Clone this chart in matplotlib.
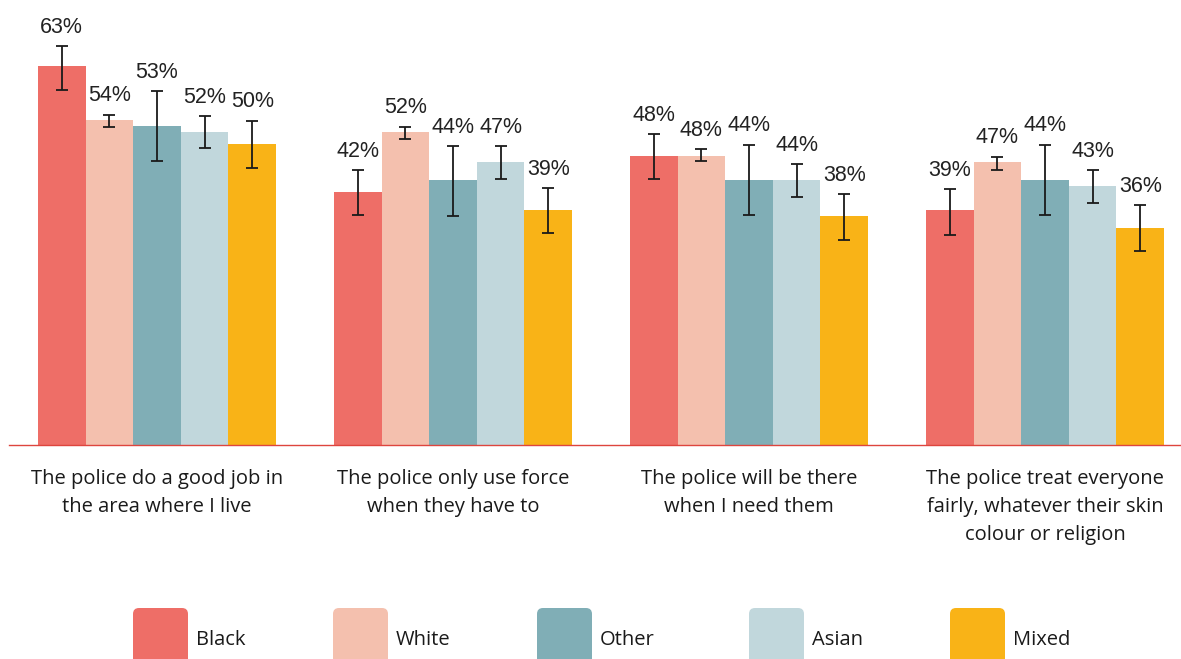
import matplotlib
matplotlib.use("Agg")
import matplotlib.pyplot as plt
from matplotlib.patches import FancyBboxPatch
import numpy as np

# Statements (x categories)
statements = [
    "The police do a good job in\nthe area where I live",
    "The police only use force\nwhen they have to",
    "The police will be there\nwhen I need them",
    "The police treat everyone\nfairly, whatever their skin\ncolour or religion",
]

groups = ["Black", "White", "Other", "Asian", "Mixed"]

# Percentages by group, one value per statement
black = [63, 42, 48, 39]
white = [54, 52, 48, 47]
other = [53, 44, 44, 44]
asian = [52, 47, 44, 43]
mixed = [50, 39, 38, 36]

# Confidence interval bounds
black_lo = [58.9, 38.2, 44.2, 34.9]
black_hi = [66.3, 45.6, 51.7, 42.5]
white_lo = [52.8, 50.8, 47.1, 45.7]
white_hi = [54.9, 52.9, 49.1, 47.9]
other_lo = [47.1, 38.0, 38.2, 38.2]
other_hi = [58.8, 49.6, 49.9, 49.9]
asian_lo = [49.3, 44.2, 41.2, 40.2]
asian_hi = [54.7, 49.6, 46.6, 45.6]
mixed_lo = [46.0, 35.2, 34.1, 32.2]
mixed_hi = [53.9, 42.7, 41.7, 39.9]

colors = ["#EE6E67", "#F4C0AE", "#80AEB6", "#C1D7DC", "#F9B317"]

series = [black, white, other, asian, mixed]
lows = [black_lo, white_lo, other_lo, asian_lo, mixed_lo]
highs = [black_hi, white_hi, other_hi, asian_hi, mixed_hi]

W, H = 1181, 659
fig = plt.figure(figsize=(W / 100, H / 100), dpi=100)
ax = fig.add_axes([9 / W, (H - 445) / H, 1172 / W, 421.4 / H])

x = np.arange(len(statements))
width = 0.1608

for i, (vals, lo, hi, col) in enumerate(zip(series, lows, highs, colors)):
    xs = x + (i - 2) * width
    vals = np.array(vals, dtype=float)
    yerr = [vals - np.array(lo), np.array(hi) - vals]
    ax.bar(xs, vals, width=width, color=col, zorder=2)
    ax.errorbar(xs, vals, yerr=yerr, fmt="none", ecolor="#1a1a1a",
                elinewidth=1.3, capsize=4.5, capthick=1.3, zorder=3)
    for xi, v, h in zip(xs, vals, hi):
        ax.annotate(f"{int(v)}%", (xi, h), xytext=(0, 9.5), textcoords="offset points",
                    ha="center", va="baseline", fontsize=15.5, color="#222222",
                    family="Liberation Sans")

for xi, label in zip(x, statements):
    ax.annotate(label, (xi, 0), xycoords=("data", "axes fraction"),
                xytext=(0, -17.5), textcoords="offset points", ha="center", va="top",
                fontsize=14.5, color="#1a1a1a", family="Open Sans", linespacing=1.52)

ax.set_xlim(-0.5, -0.5 + 1172 / 296)
ax.set_ylim(0, 70)
for s in ["top", "right", "left"]:
    ax.spines[s].set_visible(False)
ax.spines["bottom"].set_color("#DE453E")
ax.spines["bottom"].set_linewidth(1)
ax.set_xticks([])
ax.set_yticks([])

# legend drawn as rounded swatches along the bottom
legend_x = [133, 333, 537, 749, 950]
for lx, name, col in zip(legend_x, groups, colors):
    patch = FancyBboxPatch((lx / 100, -0.2), 0.55, (H - 608) / 100 + 0.2,
                           boxstyle="round,pad=0,rounding_size=0.06",
                           transform=fig.dpi_scale_trans, facecolor=col,
                           edgecolor="none", clip_on=False)
    fig.add_artist(patch)
    fig.text((lx + 63) / W, (H - 640) / H, name, ha="left", va="center",
             fontsize=14.5, color="#1a1a1a", family="Open Sans")

fig.savefig("out.png", dpi=100)
